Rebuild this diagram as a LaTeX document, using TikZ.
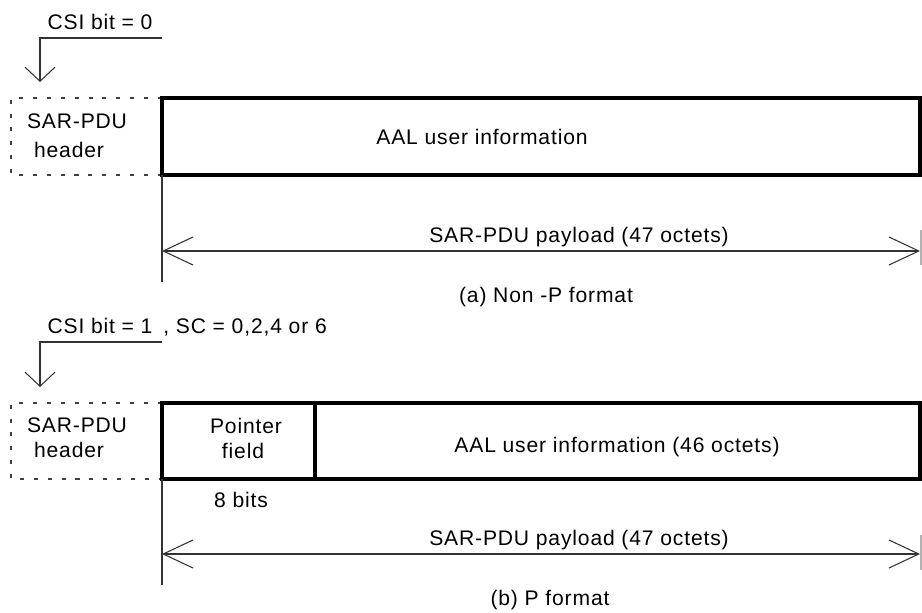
\documentclass[tikz,border=0pt]{standalone}
\usepackage{fontspec}
\setmainfont{Liberation Sans}[LetterSpace=4]
\usetikzlibrary{arrows.meta}

\begin{document}
\begin{tikzpicture}[x=0.02cm, y=-0.02cm,
	thinline/.style={line width=0.6pt, color=black!80},
	cell/.style={line width=2.2pt},
	hdr/.style={line width=0.6pt, color=black!75, dash pattern=on 2.3pt off 5.6pt},
	lbl/.style={anchor=base, inner sep=0pt, font=\fontsize{12}{14}\selectfont},
	dim/.style={thinline, {Straight Barb[length=17pt,width=16pt]}-{Straight Barb[length=17pt,width=16pt]}},
	drop/.style={thinline, -{Straight Barb[length=8pt,width=17pt]}}]
			%%%%% START %%%%%
			\useasboundingbox (0,0) rectangle (922,612);
			
			%%%%% (a) Non-P format
			\node[lbl] (a csi) at (100,30) {CSI bit = 0};
			\coordinate (a csi end) at (162,38);
			\coordinate (a drop) at (40,82);
			\draw[drop] (a csi end) -| (a drop);
			
			\coordinate (a hdr nw) at (11,98);
			\coordinate (a nw) at (162,98);
			\coordinate (a sw) at (162,175);
			\coordinate (a se) at (920,175);
			\draw[hdr] (a nw) -- (a hdr nw) |- (a sw);
			\draw[cell] (a nw) rectangle (a se);
			\node[lbl] (a hdr1) at (77,128) {SAR-PDU};
			\node[lbl] (a hdr2) at (69,157) {header};
			\node[lbl] (a info) at (482,144) {AAL user information};
			
			\coordinate (a tick) at (162,282);
			\coordinate (a tick r1) at (921,230);
			\coordinate (a tick r2) at (921,265);
			\coordinate (a dim l) at (162,251);
			\coordinate (a dim r) at (920,251);
			\draw[thinline] (a sw) -- (a tick);
			\draw[thinline, color=black!30] (a tick r1) -- (a tick r2);
			\draw[dim] (a dim l) -- (a dim r);
			\node[lbl] (a payload) at (579,242) {SAR-PDU payload (47 octets)};
			\node[lbl] (a caption) at (546,302) {(a) Non -P format};
			
			%%%%% (b) P format
			\node[lbl] (b csi) at (100,333) {CSI bit = 1};
			\node[lbl, anchor=base west] (b sc) at (163,333) {, SC = 0,2,4 or 6};
			\coordinate (b csi end) at (162,342);
			\coordinate (b drop) at (40,387);
			\draw[drop] (b csi end) -| (b drop);
			
			\coordinate (b hdr nw) at (11,403);
			\coordinate (b nw) at (162,403);
			\coordinate (b sw) at (162,479);
			\coordinate (b se) at (920,479);
			\coordinate (b ptr n) at (315,403);
			\coordinate (b ptr s) at (315,479);
			\draw[hdr] (b nw) -- (b hdr nw) |- (b sw);
			\draw[cell] (b nw) rectangle (b se);
			\draw[cell] (b ptr n) -- (b ptr s);
			\node[lbl] (b hdr1) at (77,432) {SAR-PDU};
			\node[lbl] (b hdr2) at (69,457) {header};
			\node[lbl] (b ptr1) at (246,433) {Pointer};
			\node[lbl] (b ptr2) at (243,458) {field};
			\node[lbl] (b info) at (617,452) {AAL user information (46 octets)};
			\node[lbl] (b bits) at (241,507) {8 bits};
			
			\coordinate (b tick) at (162,585);
			\coordinate (b tick r1) at (921,535);
			\coordinate (b tick r2) at (921,570);
			\coordinate (b dim l) at (162,554);
			\coordinate (b dim r) at (920,554);
			\draw[thinline] (b sw) -- (b tick);
			\draw[thinline, color=black!30] (b tick r1) -- (b tick r2);
			\draw[dim] (b dim l) -- (b dim r);
			\node[lbl] (b payload) at (579,545) {SAR-PDU payload (47 octets)};
			\node[lbl] (b caption) at (550,605) {(b) P format};
			
			%%%%% END %%%%%
\end{tikzpicture}
\end{document}
